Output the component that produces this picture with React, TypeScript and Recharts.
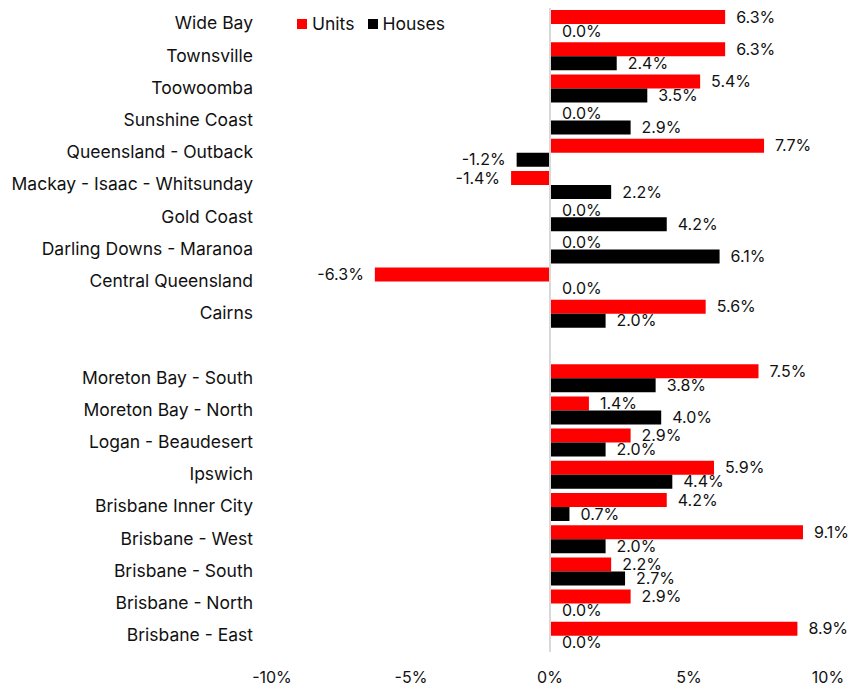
import React from 'react'
import {
  BarChart, Bar, XAxis, YAxis, ReferenceLine, LabelList,
} from 'recharts'

const regions = [
  'Wide Bay', 'Townsville', 'Toowoomba', 'Sunshine Coast', 'Queensland - Outback',
  'Mackay - Isaac - Whitsunday', 'Gold Coast', 'Darling Downs - Maranoa',
  'Central Queensland', 'Cairns', ' ',
  'Moreton Bay - South', 'Moreton Bay - North', 'Logan - Beaudesert', 'Ipswich',
  'Brisbane Inner City', 'Brisbane - West', 'Brisbane - South', 'Brisbane - North',
  'Brisbane - East',
]

const units = [6.3, 6.3, 5.4, 0.0, 7.7, -1.4, 0.0, 0.0, -6.3, 5.6, null,
  7.5, 1.4, 2.9, 5.9, 4.2, 9.1, 2.2, 2.9, 8.9]
const houses = [0.0, 2.4, 3.5, 2.9, -1.2, 2.2, 4.2, 6.1, 0.0, 2.0, null,
  3.8, 4.0, 2.0, 4.4, 0.7, 2.0, 2.7, 0.0, 0.0]

const xTicks = [-10, -5, 0, 5, 10]

const data = regions.map((name, i) => ({ name, units: units[i], houses: houses[i] }))

const FONT = 'Inter, "Open Sans", sans-serif'

const fmt = (v: any) => (v === null || v === undefined ? '' : `${Number(v).toFixed(1)}%`)

const LegendBox = () => (
  <div style={{
    position: 'absolute', left: 297, top: 13, display: 'flex', alignItems: 'center',
    fontFamily: FONT, fontSize: 17.5, color: '#111',
  }}>
    <span style={{ width: 10, height: 10, background: '#ff0000', display: 'inline-block', marginRight: 5 }} />
    <span style={{ marginRight: 14 }}>Units</span>
    <span style={{ width: 10, height: 10, background: '#000', display: 'inline-block', marginRight: 4 }} />
    <span>Houses</span>
  </div>
)

export default function App() {
  return (
    <div style={{ position: 'absolute', left: 0, top: 0, background: '#fff' }}>
      <BarChart
        width={866}
        height={687}
        data={data}
        layout="vertical"
        margin={{ top: 8, right: 38, bottom: 5, left: 8 }}
        barGap={0}
        barSize={14}
      >
        <XAxis
          type="number"
          domain={[-10, 10]}
          ticks={xTicks}
          tickFormatter={(v) => `${v}%`}
          axisLine={false}
          tickLine={false}
          tickMargin={14}
          height={30}
          tick={{ fill: '#111', fontSize: 16, fontFamily: FONT }}
        />
        <YAxis
          type="category"
          dataKey="name"
          width={264}
          axisLine={false}
          tickLine={false}
          tickMargin={13}
          interval={0}
          tick={{ fill: '#111', fontSize: 17.5, fontFamily: FONT, dy: -1 }}
        />
        <ReferenceLine x={0} stroke="#d9d9d9" strokeWidth={2} />
        <Bar dataKey="units" name="Units" fill="#ff0000" minPointSize={1} isAnimationActive={false}>
          <LabelList dataKey="units" position="right" offset={11} formatter={fmt}
            style={{ fill: '#111', fontSize: 16, fontFamily: FONT }} />
        </Bar>
        <Bar dataKey="houses" name="Houses" fill="#000000" minPointSize={1} isAnimationActive={false}>
          <LabelList dataKey="houses" position="right" offset={11} formatter={fmt}
            style={{ fill: '#111', fontSize: 16, fontFamily: FONT }} />
        </Bar>
      </BarChart>
      <LegendBox />
    </div>
  )
}
